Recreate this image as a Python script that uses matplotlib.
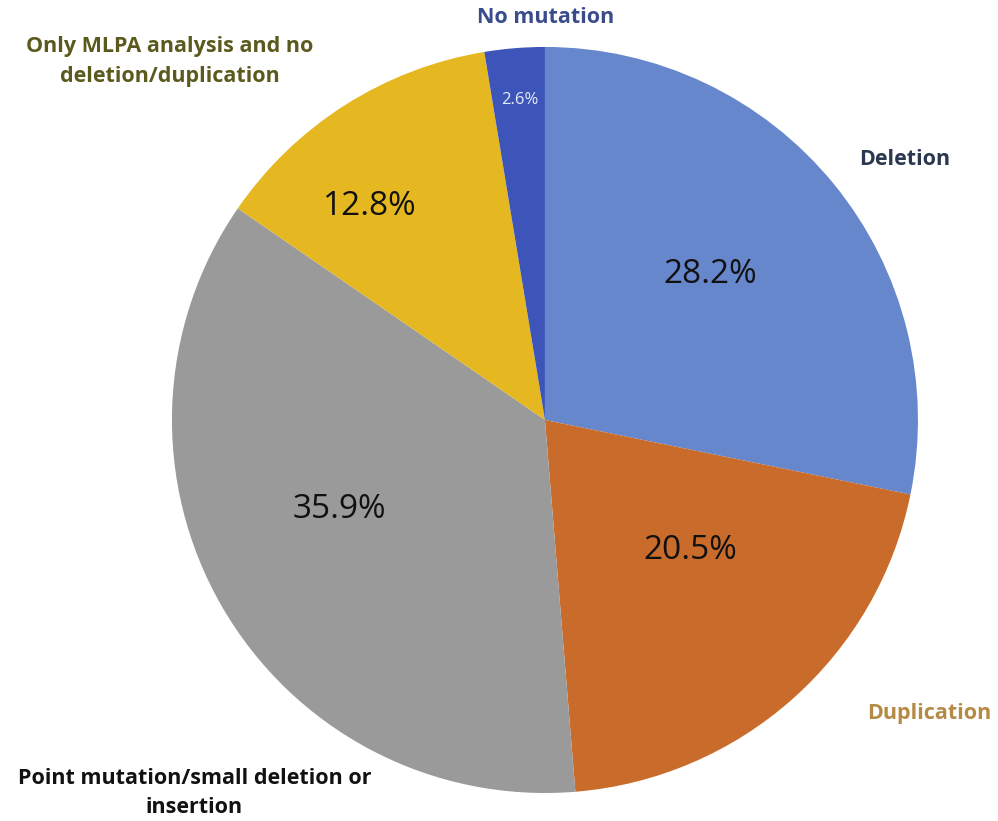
import matplotlib
matplotlib.use("Agg")
import matplotlib.pyplot as plt

# categories and shares (percent), clockwise from 12 o'clock
labels = ["Deletion", "Duplication", "Point mutation/small deletion or\ninsertion",
          "Only MLPA analysis and no\ndeletion/duplication", "No mutation"]
values = [28.2, 20.5, 35.9, 12.8, 2.6]
colors = ["#6787CC", "#C96B2B", "#9A9A9A", "#E5B822", "#3D55B8"]
label_colors = ["#2B3850", "#B48A45", "#111111", "#5A5A1E", "#3A4C8C"]

# text positions in pie coordinates (radius 1)
label_pos = [(0.965, 0.697), (1.03, -0.786), (-0.94, -1.0), (-1.005, 0.962), (0.003, 1.08)]
pct_pos = [(0.442, 0.389), (0.389, -0.349), (-0.55, -0.241), (-0.469, 0.571), (-0.067, 0.858)]

plt.rcParams['font.family'] = ['Open Sans', 'DejaVu Sans']

fig = plt.figure(figsize=(9.98, 8.21), dpi=100)
ax = fig.add_axes([0.1723, 0.0341, 0.7475, 0.9087])

wedges, texts, autotexts = ax.pie(values, colors=colors, startangle=90, counterclock=False,
                                  radius=1, autopct='%.1f%%', labels=labels)

for t, (x, y), c in zip(texts, label_pos, label_colors):
    t.set_position((x, y))
    t.set_ha('center')
    t.set_va('center')
    t.set_color(c)
    t.set_fontsize(15.5)
    t.set_fontweight('bold')
    t.set_linespacing(1.55)

for i, (t, (x, y)) in enumerate(zip(autotexts, pct_pos)):
    t.set_position((x, y))
    t.set_ha('center')
    t.set_va('center')
    if i == 4:
        t.set_fontsize(12)
        t.set_color('#E8ECF8')
    else:
        t.set_fontsize(24)
        t.set_color('#111111')

ax.set_xlim(-1, 1)
ax.set_ylim(-1, 1)
ax.set_aspect('auto')
ax.axis('off')

fig.savefig("out.png", dpi=100)
